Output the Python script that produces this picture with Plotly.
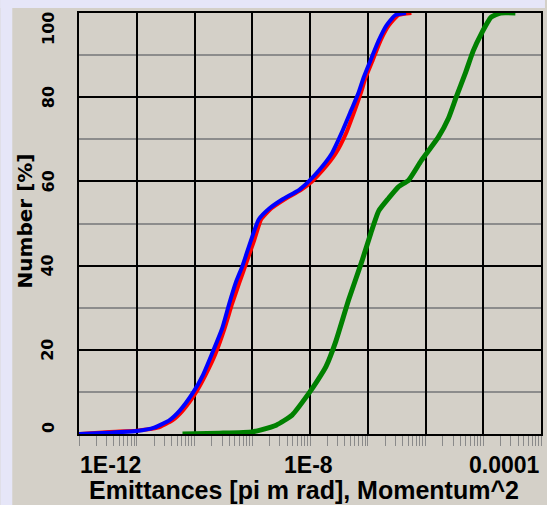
import plotly.graph_objects as go

# Cumulative distributions: emittance / momentum^2 value vs. percentage of particles
red_x = [1.04e-12, 3.4e-12, 1.0e-11, 2.3e-11, 4.2e-11, 6.2e-11, 1.04e-10, 1.55e-10,
         2.3e-10, 3.3e-10, 4.5e-10, 6.0e-10, 7.6e-10, 1.08e-9, 1.43e-9, 2.1e-9,
         3.6e-9, 7.0e-9, 1.08e-8, 1.67e-8, 2.8e-8, 4.2e-8, 6.0e-8, 7.6e-8,
         9.2e-8, 1.22e-7, 1.67e-7, 2.3e-7, 3.4e-7, 5.7e-7]
red_y = [0.0, 0.5, 0.8, 1.5, 3.3, 5.5, 9.7, 14, 19, 25, 31, 36, 40, 46, 51, 53.5,
         55.7, 58, 60, 62.7, 66.7, 71.4, 77, 81, 84.7, 88.8, 93.5, 97, 99.5, 100]

blue_x = [1.0e-12, 3.2e-12, 1.0e-11, 2.0e-11, 3.7e-11, 5.5e-11, 9.3e-11, 1.4e-10,
          2.0e-10, 3.0e-10, 4.0e-10, 5.2e-10, 6.8e-10, 9.5e-10, 1.3e-9, 1.95e-9,
          3.3e-9, 6.5e-9, 9.5e-9, 1.45e-8, 2.4e-8, 3.5e-8, 5.2e-8, 6.9e-8,
          8.5e-8, 1.12e-7, 1.55e-7, 2.1e-7, 3.0e-7, 4.6e-7]
blue_y = [0.0, 0.3, 0.7, 1.5, 3.3, 5.5, 9.7, 14, 19, 25, 31, 36, 40, 46, 51, 53.5,
          55.7, 58, 60, 62.7, 66.7, 71.4, 77, 81, 84.7, 88.8, 93.5, 97, 99.5, 100]

green_x = [6.2e-11, 2.7e-10, 1.0e-9, 1.43e-9, 2.6e-9, 4.9e-9, 9.6e-9, 1.32e-8,
           1.89e-8, 2.8e-8, 4.7e-8, 7.9e-8, 1.13e-7, 1.55e-7, 2.3e-7, 3.4e-7,
           5.1e-7, 8.5e-7, 1.67e-6, 2.5e-6, 3.4e-6, 4.9e-6, 6.7e-6, 9.2e-6,
           1.37e-5, 2.0e-5, 3.6e-5]
green_y = [0.0, 0.2, 0.5, 1.0, 2.1, 4.5, 9.7, 12.5, 16, 22, 32, 41, 47.7, 53, 56,
           58.7, 60.3, 65, 70.5, 75, 80, 85.7, 91, 95, 99, 100, 100]

# Axis ticks and labels
decades = list(range(-12, -3))
x_label_exps = [-12, -8, -4]
x_labels = ["1E-12", "1E-8", "0.0001"]
y_labels = [0, 20, 40, 60, 80, 100]

PANEL = "#D4D0C8"
PAGE = "#E6E6F8"

fig = go.Figure()
for xs, ys, col, w in [(red_x, red_y, "#FF0000", 4),
                       (blue_x, blue_y, "#0000FF", 4),
                       (green_x, green_y, "#008000", 5)]:
    fig.add_trace(go.Scatter(x=xs, y=ys, mode="lines",
                             line=dict(color=col, width=w, shape="spline", smoothing=0.5),
                             cliponaxis=False))

major_vals = [10.0 ** e for e in decades]
minor_vals = [m * 10.0 ** e for e in decades[:-1] for m in range(2, 10)]

fig.update_xaxes(
    type="log", range=[-12, -4],
    tickmode="array", tickvals=major_vals, showticklabels=False,
    ticks="outside", ticklen=10, tickwidth=1, tickcolor="#8A8A8A",
    showgrid=True, gridcolor="#000000", gridwidth=2,
    minor=dict(tickmode="array", tickvals=minor_vals, ticks="outside",
               ticklen=10, tickwidth=1, tickcolor="#8A8A8A", showgrid=False),
    showline=True, linecolor="#000000", linewidth=2, mirror=True,
    zeroline=False,
)
fig.update_yaxes(
    range=[0, 100], dtick=20, showticklabels=False, ticks="",
    showgrid=True, gridcolor="#000000", gridwidth=2,
    minor=dict(dtick=10, showgrid=True, gridcolor="#8C8C8C", gridwidth=2, ticks=""),
    showline=True, linecolor="#000000", linewidth=2, mirror=True,
    zeroline=False,
)

annotations = []
# x tick labels, kept inside the plot width at the ends
for exp, txt in zip(x_label_exps, x_labels):
    anchor = "left" if exp == x_label_exps[0] else ("right" if exp == x_label_exps[-1] else "center")
    annotations.append(dict(
        x=exp, xref="x", y=0, yref="paper", yanchor="middle", yshift=-31,
        xanchor=anchor, xshift=(-2 if anchor == "center" else 0),
        text=txt, showarrow=False, borderpad=0,
        font=dict(family="Liberation Sans", size=23, color="#000000", weight="bold"),
    ))
# y tick labels, rotated
for v in y_labels:
    shift = 6 if v == y_labels[0] else (-16 if v == y_labels[-1] else 0)
    annotations.append(dict(
        x=0, xref="paper", xshift=-31, xanchor="center",
        y=v, yref="y", yanchor="middle", yshift=shift,
        text=str(v), textangle=-90, showarrow=False,
        font=dict(family="DejaVu Sans", size=16, color="#000000", weight="bold"),
    ))
# axis titles
annotations.append(dict(
    x=0.487, xref="paper", xanchor="center", y=0, yref="paper", yanchor="middle",
    yshift=-56, text="Emittances [pi m rad], Momentum^2", showarrow=False, borderpad=0,
    font=dict(family="Liberation Sans", size=25, color="#000000", weight="bold"),
))
annotations.append(dict(
    x=0, xref="paper", xshift=-54, xanchor="center", y=0.505, yref="paper",
    yanchor="middle", text="Number [%]", textangle=-90, showarrow=False,
    font=dict(family="DejaVu Sans", size=20, color="#000000", weight="bold"),
))

# lavender page strips along the left and top edges of the grey panel
page_strips = [
    dict(type="rect", xref="paper", yref="paper", layer="above",
         x0=-0.1703, x1=-0.1444, y0=-0.1686, y1=1.0309,
         fillcolor=PAGE, line=dict(width=0)),
    dict(type="rect", xref="paper", yref="paper", layer="above",
         x0=-0.1703, x1=1.0086, y0=1.0119, y1=1.0309,
         fillcolor=PAGE, line=dict(width=0)),
]

fig.update_layout(
    width=547, height=505,
    margin=dict(l=79, r=4, t=13, b=71),
    paper_bgcolor=PANEL, plot_bgcolor=PANEL,
    showlegend=False,
    annotations=annotations,
    shapes=page_strips,
)

fig.write_html("out.html", include_plotlyjs=True)
